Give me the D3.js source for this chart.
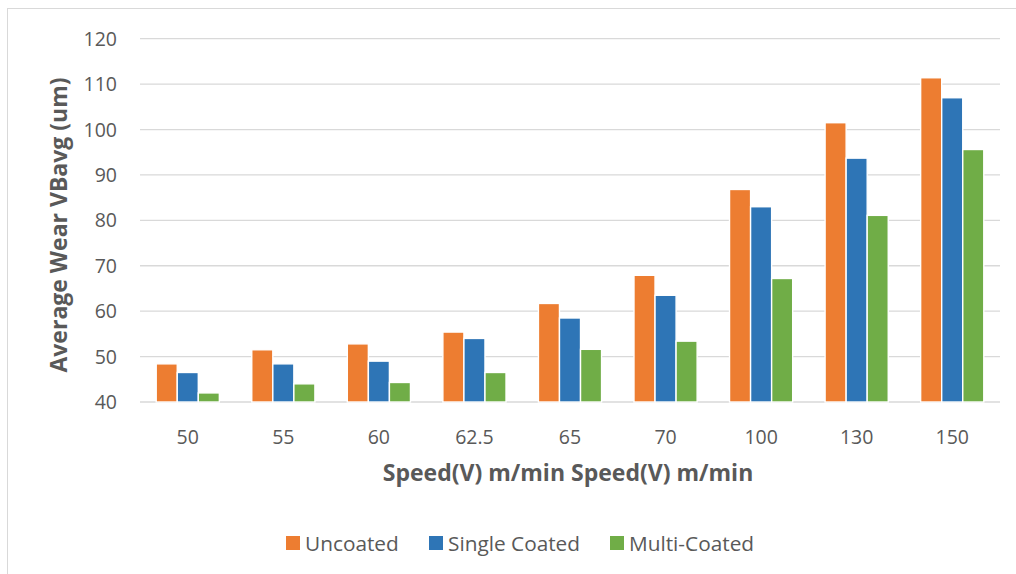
<!DOCTYPE html>
<html>
<head>
<meta charset="utf-8">
<script src="https://cdn.jsdelivr.net/npm/d3@7"></script>
<style>
  html, body { margin: 0; padding: 0; background: #fff; }
  svg { display: block; font-family: "Open Sans", Lato, sans-serif; }
</style>
</head>
<body>
<svg id="chart" width="1016" height="574"></svg>
<script>
// speeds on the x axis
const speeds = ["50", "55", "60", "62.5", "65", "70", "100", "130", "150"]
const seriesNames = ["Uncoated", "Single Coated", "Multi-Coated"]

// average wear values
const uncoated = [48.4, 51.5, 52.8, 55.4, 61.7, 67.9, 86.8, 101.5, 111.4]
const singleCoated = [46.5, 48.4, 49.0, 54.0, 58.5, 63.5, 83.0, 93.7, 107.0]
const multiCoated = [42.0, 44.0, 44.3, 46.5, 51.6, 53.4, 67.2, 81.1, 95.6]

const yTicks = [40, 50, 60, 70, 80, 90, 100, 110, 120]
const colors = ["#ed7d31", "#2e75b6", "#70ad47"]

const series = [uncoated, singleCoated, multiCoated]

const svg = d3.select("#chart")
const W = 1016, H = 574

// outer chart border (runs off the right and bottom)
svg.append("rect")
    .attr("x", 7.5).attr("y", 8.5)
    .attr("width", W).attr("height", H)
    .attr("fill", "none")
    .attr("stroke", "#d9d9d9")

const plot = {left: 140, right: 1000, top: 38.7, bottom: 402}

const x = d3.scaleBand()
    .domain(speeds)
    .range([plot.left, plot.right])

const inner = d3.scaleBand()
    .domain(d3.range(series.length))
    .range([0, x.bandwidth()])
    .paddingInner(0)
    .paddingOuter(0.77)

const y = d3.scaleLinear()
    .domain([40, 120])
    .range([plot.bottom, plot.top])

// gridlines
svg.append("g")
    .selectAll("line")
    .data(yTicks)
    .join("line")
        .attr("x1", plot.left)
        .attr("x2", plot.right)
        .attr("y1", d => y(d))
        .attr("y2", d => y(d))
        .attr("stroke", "#d9d9d9")
        .attr("stroke-width", 1.3)

// y tick labels
svg.append("g")
    .selectAll("text")
    .data(yTicks)
    .join("text")
        .attr("x", 117)
        .attr("y", d => y(d))
        .attr("dy", "0.36em")
        .attr("text-anchor", "end")
        .attr("font-size", 19.5)
        .attr("fill", "#595959")
        .text(d => d)

// bars, one group per speed
const groups = svg.append("g")
    .selectAll("g")
    .data(speeds)
    .join("g")
        .attr("transform", d => `translate(${x(d)},0)`)

groups.selectAll("rect")
    .data((d, i) => series.map((s, k) => ({k, v: s[i]})))
    .join("rect")
        .attr("x", d => inner(d.k))
        .attr("y", d => y(d.v))
        .attr("width", inner.bandwidth())
        .attr("height", d => y(40) - y(d.v))
        .attr("fill", d => colors[d.k])
        .attr("stroke", "#fff")
        .attr("stroke-width", 1.4)

// x tick labels
svg.append("g")
    .selectAll("text")
    .data(speeds)
    .join("text")
        .attr("x", d => x(d) + x.bandwidth() / 2)
        .attr("y", 437)
        .attr("dy", "0.36em")
        .attr("text-anchor", "middle")
        .attr("font-size", 19.5)
        .attr("fill", "#595959")
        .text(d => d)

// axis titles
svg.append("text")
    .attr("x", 568)
    .attr("y", 473)
    .attr("dy", "0.36em")
    .attr("text-anchor", "middle")
    .attr("font-size", 23)
    .attr("font-weight", "bold")
    .attr("fill", "#595959")
    .text("Speed(V) m/min Speed(V) m/min")

svg.append("text")
    .attr("transform", "translate(59,225) rotate(-90)")
    .attr("dy", "0.36em")
    .attr("text-anchor", "middle")
    .attr("font-size", 23)
    .attr("font-weight", "bold")
    .attr("fill", "#595959")
    .text("Average Wear VBavg (um)")

// legend
const legendX = [286, 429, 610]
const legend = svg.append("g")
    .selectAll("g")
    .data(seriesNames)
    .join("g")
        .attr("transform", (d, i) => `translate(${legendX[i]},543)`)

legend.append("rect")
    .attr("x", 0).attr("y", -7)
    .attr("width", 14).attr("height", 14)
    .attr("fill", (d, i) => colors[i])

legend.append("text")
    .attr("x", 19)
    .attr("dy", "0.36em")
    .attr("font-size", 20.8)
    .attr("fill", "#595959")
    .text(d => d)
</script>
</body>
</html>
